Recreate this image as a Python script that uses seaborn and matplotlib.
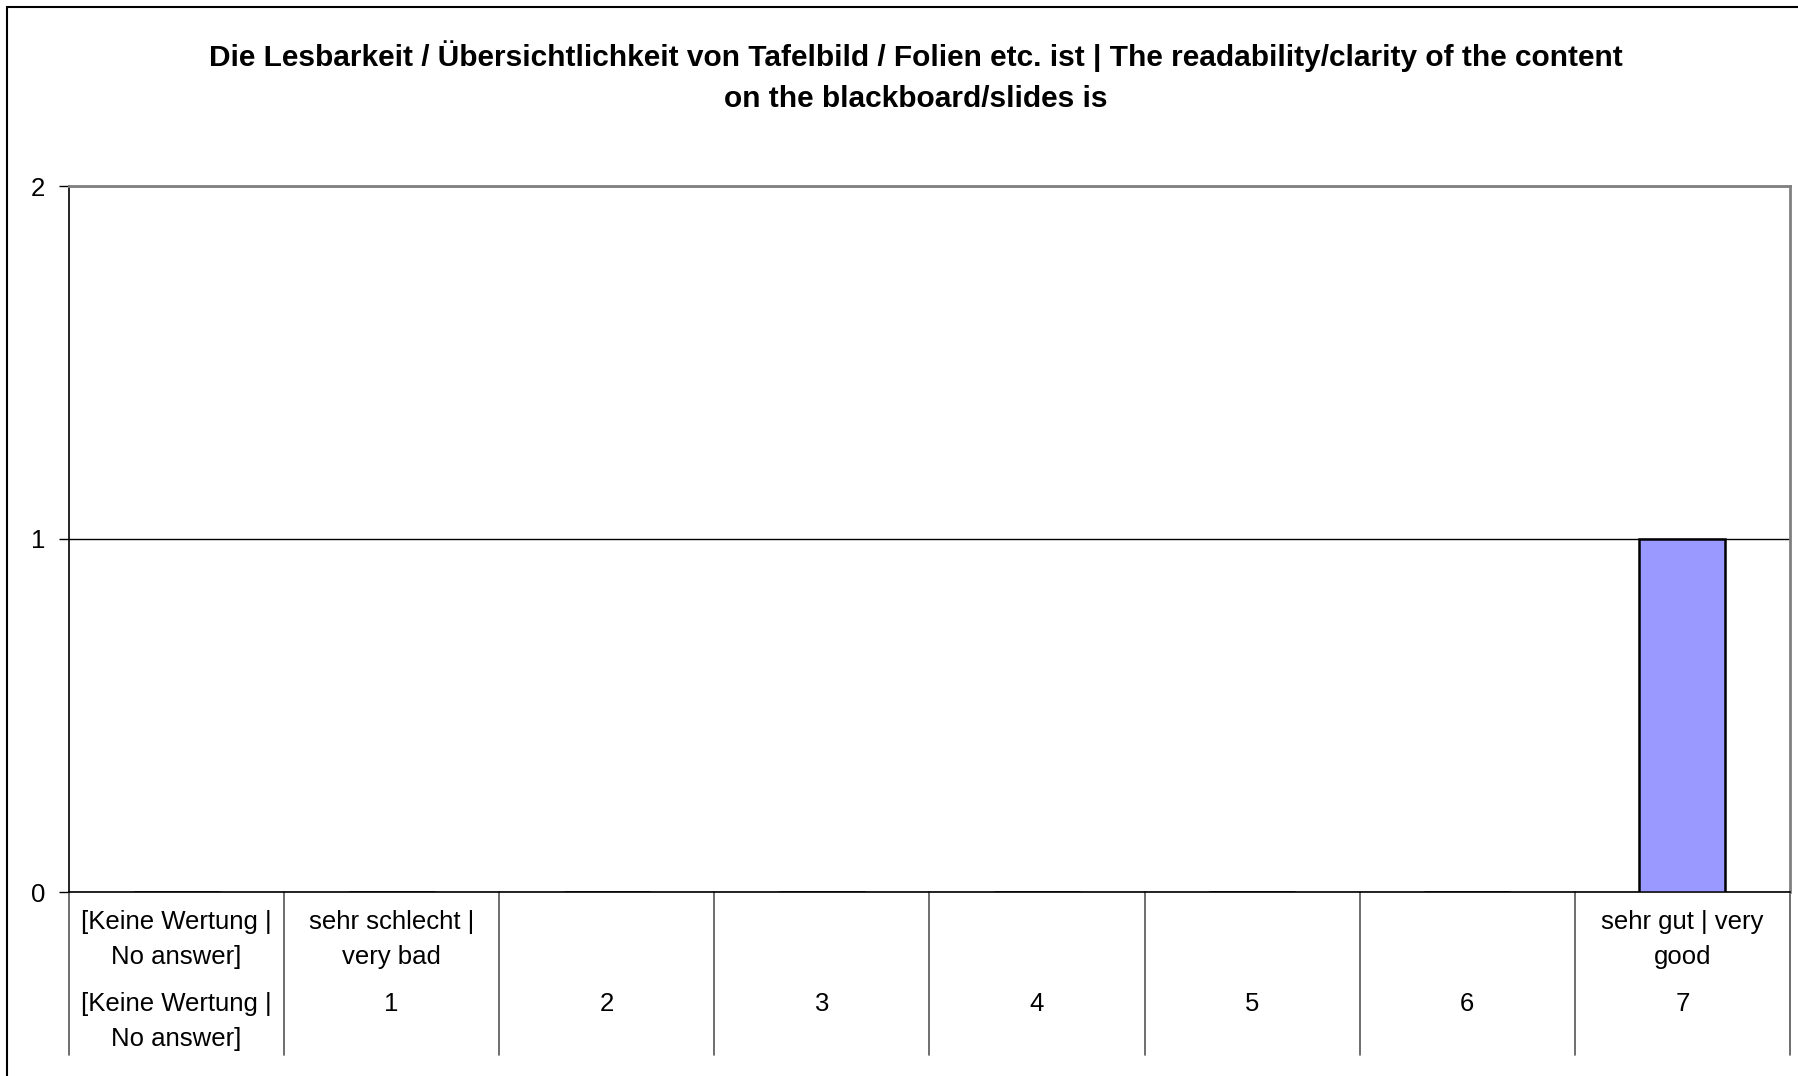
import matplotlib
matplotlib.use("Agg")
import matplotlib.pyplot as plt
import seaborn as sns
from matplotlib.patches import Rectangle

# survey answers: readability of blackboard / slides
categories = ["[Keine Wertung | No answer]", "1", "2", "3", "4", "5", "6", "7"]
counts = [0, 0, 0, 0, 0, 0, 0, 1]
scale_labels = ["[Keine Wertung |\nNo answer]", "sehr schlecht |\nvery bad", "", "", "", "", "",
                "sehr gut | very\ngood"]
value_labels = ["[Keine Wertung |\nNo answer]", "1", "2", "3", "4", "5", "6", "7"]
y_ticks = [0, 1, 2]

title = ("Die Lesbarkeit / Übersichtlichkeit von Tafelbild / Folien etc. ist | The readability/clarity of the content\n"
         "on the blackboard/slides is")

sns.set_style("white")
plt.rcParams["font.family"] = ["Liberation Sans", "DejaVu Sans"]
plt.rcParams["text.color"] = "black"

fig = plt.figure(figsize=(17.98, 10.76), dpi=100)
ax = fig.add_axes([69 / 1798, 184 / 1076, (1790 - 69) / 1798, (892 - 186) / 1076])

sns.barplot(x=categories, y=counts, color="#9999FF", edgecolor="black",
            linewidth=1.8, width=0.4, saturation=1, ax=ax, zorder=3)

ax.set_ylim(0, 2)
ax.set_yticks(y_ticks)
ax.set_yticklabels([str(t) for t in y_ticks], fontsize=18.5)
ax.set_xlim(-0.5, len(categories) - 0.5)
ax.set_xticks([])
ax.set_xlabel("")
ax.set_ylabel("")
ax.tick_params(axis="y", left=True, length=7, width=1, direction="out", pad=10,
               colors="black", labelcolor="black")
ax.yaxis.grid(True, color="black", linewidth=1)
ax.set_axisbelow(True)

for side in ["top", "right"]:
    ax.spines[side].set_color("#808080")
    ax.spines[side].set_linewidth(2)
for side in ["left", "bottom"]:
    ax.spines[side].set_color("black")
    ax.spines[side].set_linewidth(1.2)

# two-level category axis drawn below the plot area
trans = ax.get_xaxis_transform()
for i in range(len(categories) + 1):
    ax.plot([i - 0.5, i - 0.5], [0, -0.231], transform=trans, color="#555555",
            linewidth=1.2, clip_on=False)
for i, (top, bottom) in enumerate(zip(scale_labels, value_labels)):
    ax.text(i, -0.026, top, transform=trans, ha="center", va="top", color="black",
            fontsize=18.5, linespacing=1.55, multialignment="center")
    ax.text(i, -0.142, bottom, transform=trans, ha="center", va="top", color="black",
            fontsize=18.5, linespacing=1.55, multialignment="center")

fig.text(916 / 1798, 1 - 77 / 1076, title, ha="center", va="center", color="black",
         fontsize=21.5, fontweight="bold", linespacing=1.6)

# chart border (left and top edges visible)
fig.patches.append(Rectangle((7 / 1798, -0.1), 1.2, 1.1 - 7 / 1076, transform=fig.transFigure,
                             fill=False, edgecolor="black", linewidth=1.5))

fig.savefig("out.png", dpi=100)
